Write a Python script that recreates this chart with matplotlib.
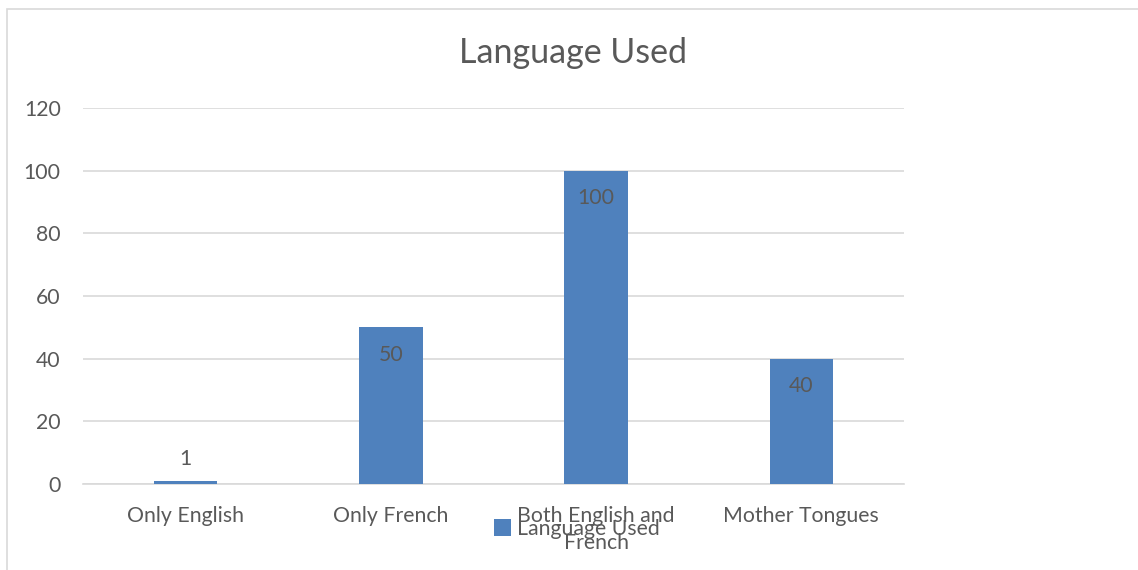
import numpy as np
import matplotlib.pyplot as plt
from matplotlib.patches import Rectangle

categories = ["Only English", "Only French", "Both English and\nFrench", "Mother Tongues"]
values = [1, 50, 100, 40]
series_name = "Language Used"
yticks = [0, 20, 40, 60, 80, 100, 120]

W, H = 1138, 570
plt.rcParams['font.family'] = ['Lato', 'DejaVu Sans']
grey = "#595959"
bar_color = "#4f81bd"

fig = plt.figure(figsize=(W/100, H/100), dpi=100)
# chart border (cropped at right and bottom)
fig.patches.append(Rectangle((7/W, -0.1), 1.2, (H - 9)/H + 0.1, transform=fig.transFigure,
                             fill=False, edgecolor="#d9d9d9", linewidth=1.2))

ax = fig.add_axes([83/W, (H-484)/H, (904-83)/W, (484-108)/H])
x = np.arange(len(categories))
bars = ax.bar(x, values, width=0.31, color=bar_color, label=series_name, zorder=3)

ax.set_xlim(-0.5, len(categories) - 0.5)
ax.set_ylim(0, 120)
ax.set_yticks(yticks)
ax.grid(axis="y", color="#d9d9d9", linewidth=1.2, zorder=0)
for s in ["top", "right", "left"]:
    ax.spines[s].set_visible(False)
ax.spines["bottom"].set_color("#d9d9d9")
ax.spines["bottom"].set_linewidth(1.2)
ax.tick_params(axis="both", length=0, colors=grey, labelsize=15.3)
ax.tick_params(axis="y", pad=16)
ax.tick_params(axis="x", pad=16)
ax.set_xticks(x)
ax.set_xticklabels(categories, linespacing=1.45)

for xi, v in zip(x, values):
    if v > 10:
        ax.text(xi, v - 8.8, str(v), ha="center", va="center", fontsize=15.3, color=grey, zorder=4)
    else:
        ax.text(xi, v + 7, str(v), ha="center", va="center", fontsize=15.3, color=grey, zorder=4)

fig.text(573/W, 1 - 53/H, "Language Used", ha="center", va="center", fontsize=24.5, color=grey)

leg = fig.legend(loc="center", bbox_to_anchor=(577/W, 1 - 529/H), frameon=False,
                 fontsize=15.3, handlelength=0.8, handleheight=0.8, handletextpad=0.3)
for t in leg.get_texts():
    t.set_color(grey)

fig.savefig("out.png", dpi=100, facecolor="white")
